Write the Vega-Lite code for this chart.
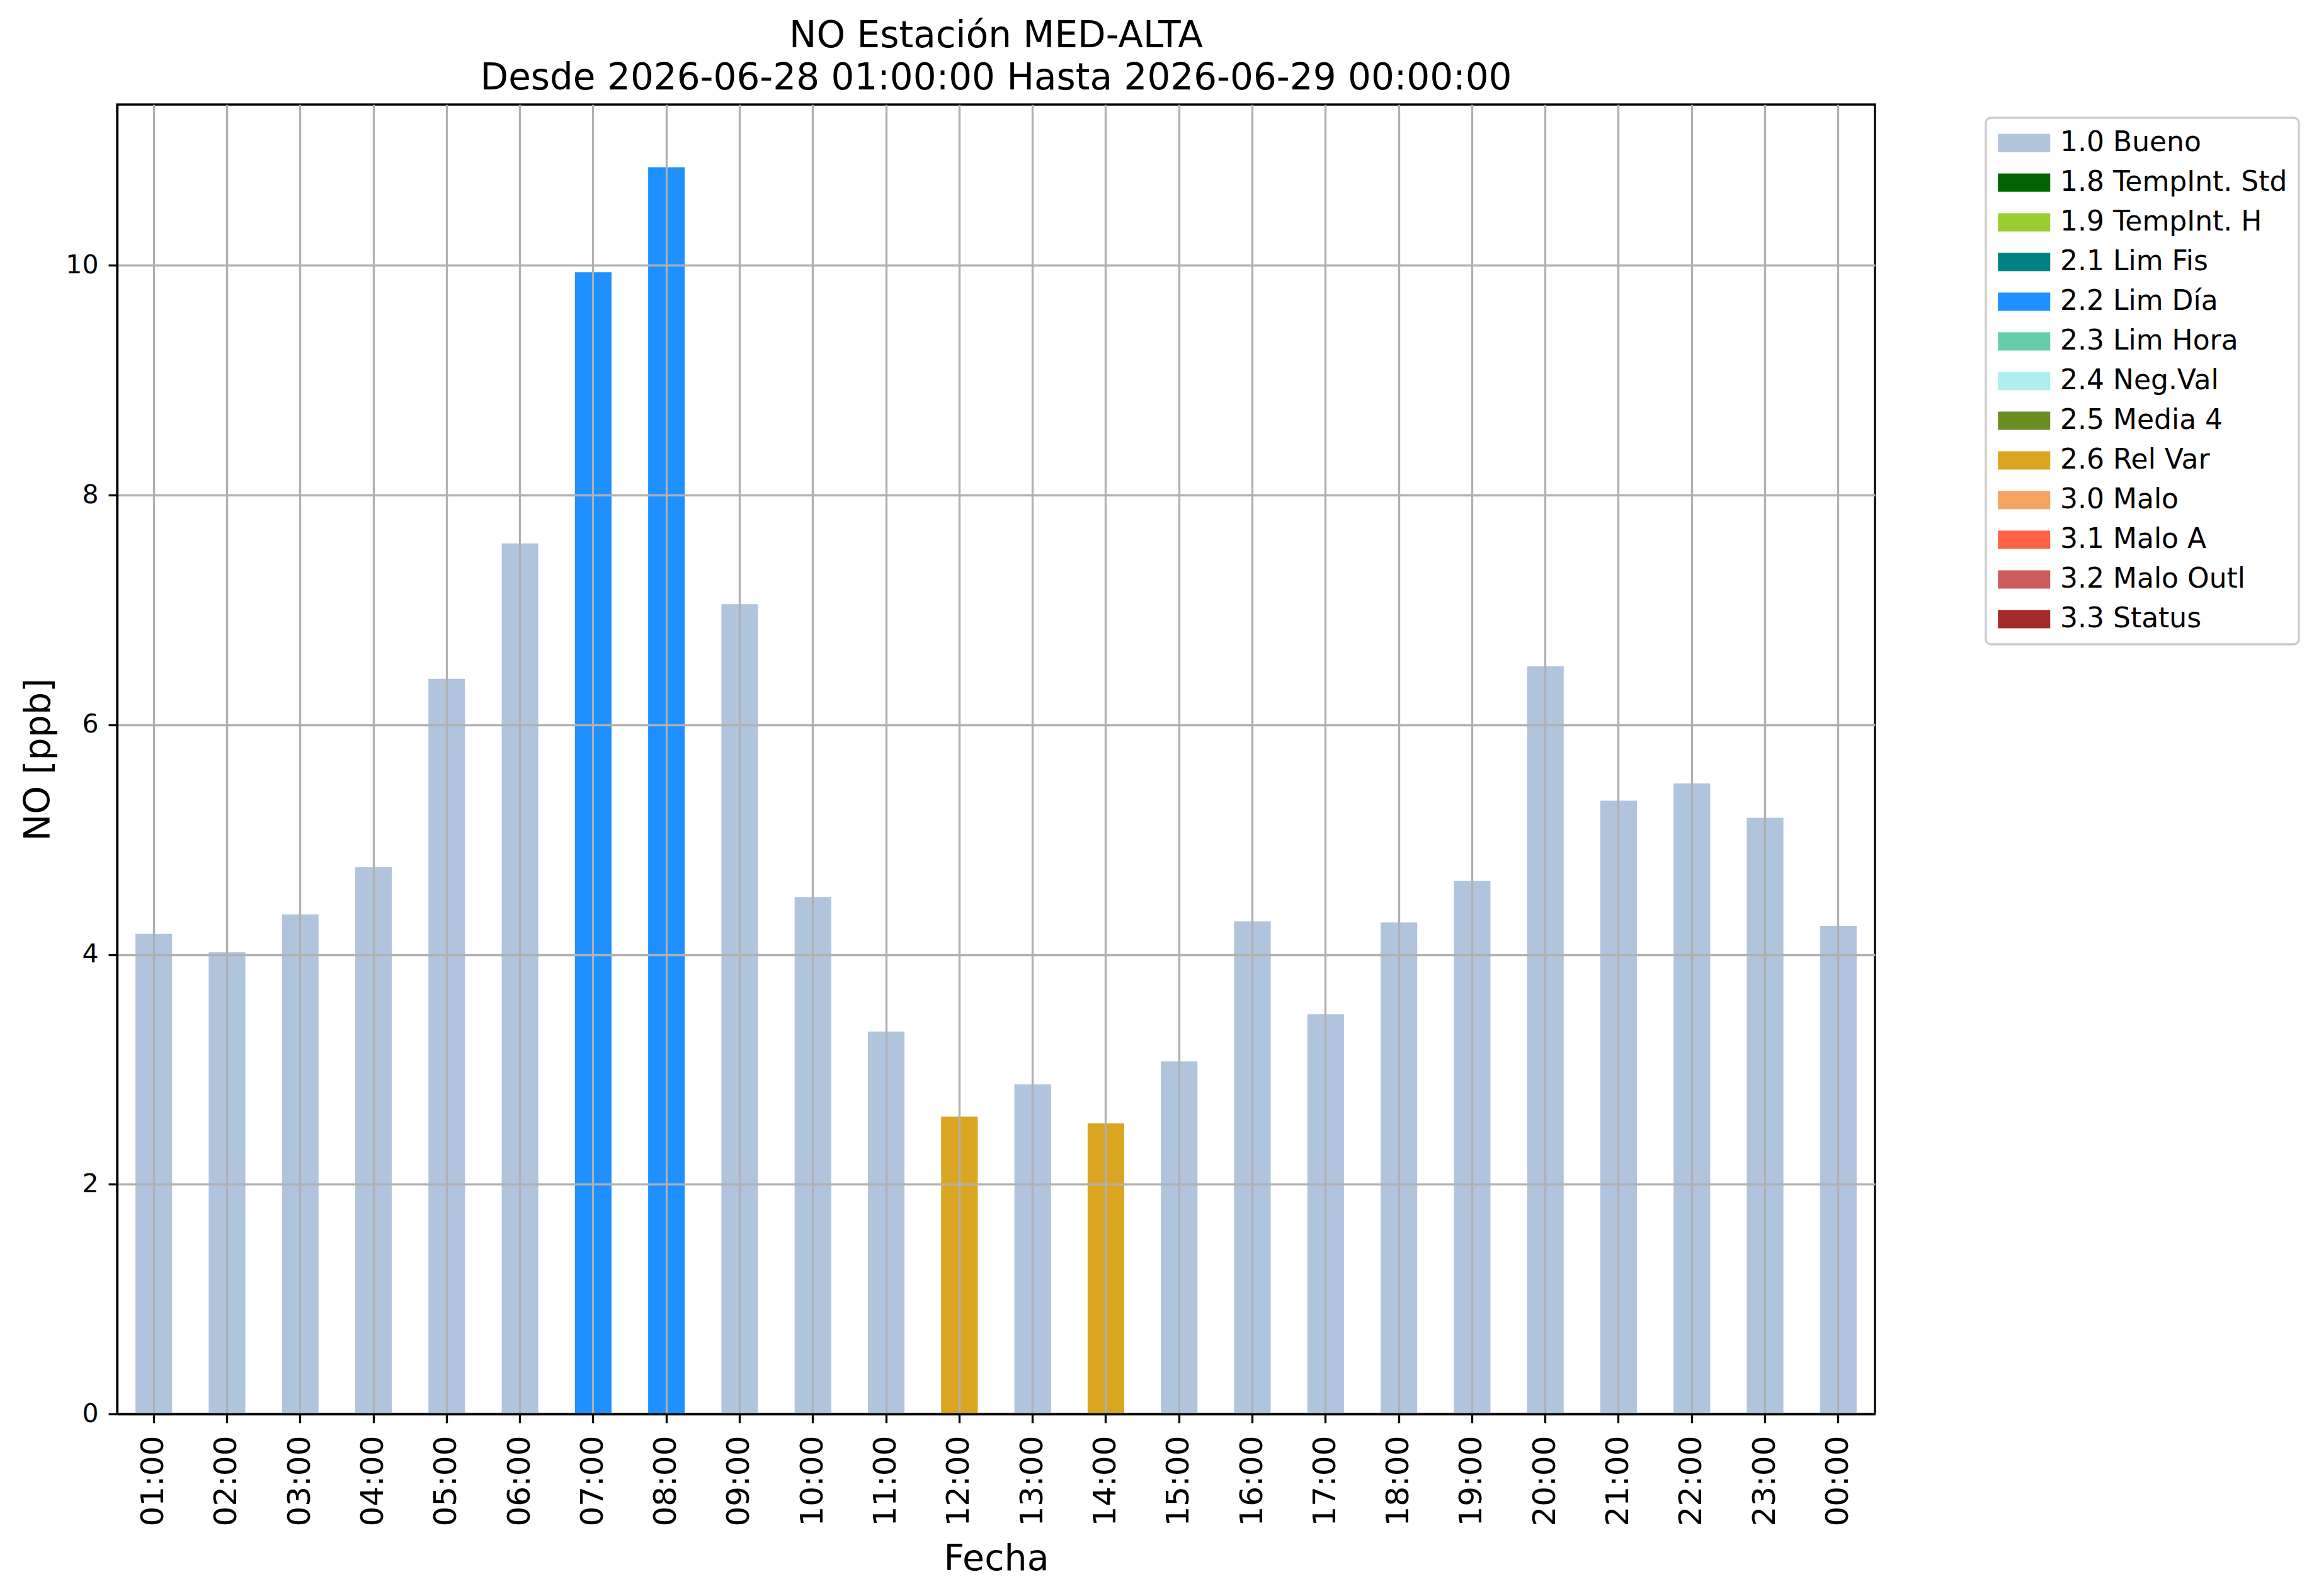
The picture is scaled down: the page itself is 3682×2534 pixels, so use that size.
{
  "$schema": "https://vega.github.io/schema/vega-lite/v6.json",
  "autosize": {"type": "none"},
  "padding": {"left": 186, "top": 166, "right": 705, "bottom": 289},
  "width": 2791,
  "height": 2079,
  "background": "white",
  "title": {
    "text": ["NO Estación MED-ALTA", "Desde 2026-06-28 01:00:00 Hasta 2026-06-29 00:00:00"],
    "font": "DejaVu Sans",
    "fontSize": 58,
    "fontWeight": "normal",
    "color": "black",
    "anchor": "middle",
    "frame": "group",
    "lineHeight": 67,
    "offset": 12
  },
  "data": {
    "values": [
      {"hora": "01:00", "valor": 4.18, "flag": "1.0 Bueno"},
      {"hora": "02:00", "valor": 4.02, "flag": "1.0 Bueno"},
      {"hora": "03:00", "valor": 4.35, "flag": "1.0 Bueno"},
      {"hora": "04:00", "valor": 4.76, "flag": "1.0 Bueno"},
      {"hora": "05:00", "valor": 6.40, "flag": "1.0 Bueno"},
      {"hora": "06:00", "valor": 7.58, "flag": "1.0 Bueno"},
      {"hora": "07:00", "valor": 9.94, "flag": "2.2 Lim Día"},
      {"hora": "08:00", "valor": 10.855, "flag": "2.2 Lim Día"},
      {"hora": "09:00", "valor": 7.05, "flag": "1.0 Bueno"},
      {"hora": "10:00", "valor": 4.50, "flag": "1.0 Bueno"},
      {"hora": "11:00", "valor": 3.33, "flag": "1.0 Bueno"},
      {"hora": "12:00", "valor": 2.59, "flag": "2.6 Rel Var"},
      {"hora": "13:00", "valor": 2.87, "flag": "1.0 Bueno"},
      {"hora": "14:00", "valor": 2.53, "flag": "2.6 Rel Var"},
      {"hora": "15:00", "valor": 3.07, "flag": "1.0 Bueno"},
      {"hora": "16:00", "valor": 4.29, "flag": "1.0 Bueno"},
      {"hora": "17:00", "valor": 3.48, "flag": "1.0 Bueno"},
      {"hora": "18:00", "valor": 4.28, "flag": "1.0 Bueno"},
      {"hora": "19:00", "valor": 4.64, "flag": "1.0 Bueno"},
      {"hora": "20:00", "valor": 6.51, "flag": "1.0 Bueno"},
      {"hora": "21:00", "valor": 5.34, "flag": "1.0 Bueno"},
      {"hora": "22:00", "valor": 5.49, "flag": "1.0 Bueno"},
      {"hora": "23:00", "valor": 5.19, "flag": "1.0 Bueno"},
      {"hora": "00:00", "valor": 4.25, "flag": "1.0 Bueno"}
    ]
  },
  "mark": {"type": "bar", "strokeWidth": 0, "opacity": 1},
  "encoding": {
    "x": {
      "field": "hora",
      "type": "nominal",
      "sort": null,
      "scale": {"paddingInner": 0.5, "paddingOuter": 0.25},
      "axis": {
        "title": "Fecha",
        "labelAngle": 270,
        "labelFontSize": 50,
        "labelPadding": 20,
        "titleFontSize": 57,
        "titlePadding": 24,
        "zindex": 1
      }
    },
    "y": {
      "field": "valor",
      "type": "quantitative",
      "scale": {"domain": [0, 11.4], "nice": false, "zero": true},
      "axis": {
        "title": "NO [ppb]",
        "values": [0, 2, 4, 6, 8, 10],
        "format": "d",
        "labelFontSize": 41,
        "labelPadding": 16,
        "titleFontSize": 57,
        "titlePadding": 13,
        "zindex": 1
      }
    },
    "color": {
      "field": "flag",
      "type": "nominal",
      "scale": {
        "domain": ["1.0 Bueno", "1.8 TempInt. Std", "1.9 TempInt. H", "2.1 Lim Fis", "2.2 Lim Día", "2.3 Lim Hora", "2.4 Neg.Val", "2.5 Media 4", "2.6 Rel Var", "3.0 Malo", "3.1 Malo A", "3.2 Malo Outl", "3.3 Status"],
        "range": ["#B0C4DE", "#006400", "#9ACD32", "#008080", "#1E90FF", "#66CDAA", "#AFEEEE", "#6B8E23", "#DAA520", "#F4A460", "#FF6347", "#CD5C5C", "#A52A2A"]
      },
      "legend": {
        "title": null,
        "orient": "none",
        "legendX": 2967,
        "legendY": 21,
        "padding": 18,
        "strokeColor": "#cccccc",
        "cornerRadius": 8,
        "fillColor": "white",
        "symbolType": "M-1,-0.7H3V0.7H-1Z",
        "symbolSize": 1722,
        "symbolStrokeWidth": 0,
        "symbolOpacity": 1,
        "labelFont": "DejaVu Sans",
        "labelFontSize": 44,
        "labelColor": "black",
        "labelOffset": 56,
        "labelLimit": 1000,
        "rowPadding": 19
      }
    }
  },
  "config": {
    "font": "DejaVu Sans",
    "view": {"stroke": "black", "strokeWidth": 3.3},
    "legend": {"strokeWidth": 3.3},
    "axis": {
      "labelFont": "DejaVu Sans",
      "titleFont": "DejaVu Sans",
      "labelColor": "black",
      "titleColor": "black",
      "titleFontWeight": "normal",
      "domainColor": "black",
      "domainWidth": 3.3,
      "tickColor": "black",
      "tickWidth": 3.3,
      "tickSize": 14,
      "grid": true,
      "gridColor": "#b0b0b0",
      "gridWidth": 3.3
    }
  }
}
